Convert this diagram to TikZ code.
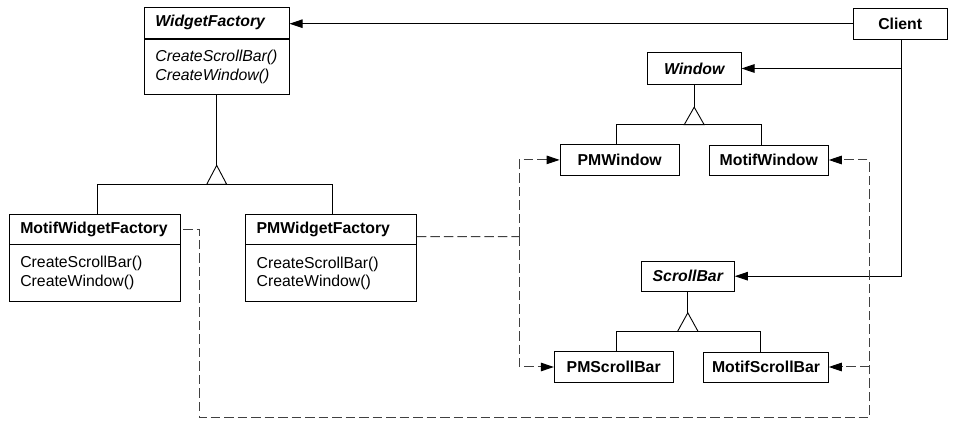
\documentclass[tikz,border=0pt]{standalone}
\usepackage{fontspec}
\setmainfont{Liberation Sans}
\usetikzlibrary{arrows.meta}

\newcommand\umlfont{\fontsize{15.8}{18.5}\selectfont}

\begin{document}
\begin{tikzpicture}[x=1pt,y=-1pt,line width=0.9pt,
    head/.style={draw,inner ysep=0pt,font=\umlfont\bfseries},
    ops/.style={draw,inner ysep=0pt,inner xsep=11pt,align=left,anchor=north,font=\umlfont},
    arr/.style={-{Triangle[length=13pt,width=8.5pt,color=black]}},
    dep/.style={black!75,line width=1pt,dash pattern=on 9.5pt off 4pt}]
    \useasboundingbox (0,0) rectangle (953,427);

    % factories
    \node[head,font=\umlfont\bfseries\itshape,inner xsep=11pt,text width=122.7pt,align=left,minimum height=31pt] (wf) at (216.7,22.8) {WidgetFactory};
    \node[ops,font=\umlfont\itshape,text width=122.7pt,minimum height=55.4pt] (wfops) at (wf.south) {CreateScrollBar()\\CreateWindow()};

    \node[head,inner xsep=11pt,text width=149pt,align=left,minimum height=29.7pt] (mwf) at (94.8,229.15) {MotifWidgetFactory};
    \node[ops,text width=149pt,minimum height=56.3pt] (mwfops) at (mwf.south) {CreateScrollBar()\\CreateWindow()};

    \node[head,inner xsep=11pt,text width=148.6pt,align=left,minimum height=29.3pt] (pwf) at (331,229.35) {PMWidgetFactory};
    \node[ops,text width=148.6pt,minimum height=56.7pt] (pwfops) at (pwf.south) {CreateScrollBar()\\CreateWindow()};

    % products
    \node[head,minimum width=93.7pt,minimum height=31.3pt] (client) at (900.2,23.7) {Client};
    \node[head,font=\umlfont\bfseries\itshape,minimum width=93.7pt,minimum height=31.6pt] (win) at (694.2,68.5) {Window};
    \node[head,minimum width=119.3pt,minimum height=30.3pt] (pmw) at (619.7,159.9) {PMWindow};
    \node[head,minimum width=119pt,minimum height=30pt] (mw) at (768.8,160) {MotifWindow};
    \node[head,font=\umlfont\bfseries\itshape,minimum width=93pt,minimum height=29.7pt] (sb) at (687.8,276.2) {ScrollBar};
    \node[head,minimum width=118.7pt,minimum height=30.6pt] (pms) at (613.7,367) {PMScrollBar};
    \node[head,minimum width=124.6pt,minimum height=30pt] (ms) at (766,367) {MotifScrollBar};

    % inheritance
    \draw (wfops.south) -- ++(0,70.3) coordinate (wftip);
    \draw (wftip) -- ++(-10,19) -- ++(20,0) -- cycle;
    \path (wftip) ++(0,19) coordinate (wfbase);
    \draw ([xshift=2.9pt]mwf.north) |- (wfbase) -| ([xshift=1.3pt]pwf.north);

    \draw (win.south) -- ++(0,22.4) coordinate (wtip);
    \draw (wtip) -- ++(-10,17.6) -- ++(20,0) -- cycle;
    \path (wtip) ++(0,17.6) coordinate (wbase);
    \draw ([xshift=-3pt]pmw.north) |- (wbase) -| ([xshift=-7.5pt]mw.north);

    \draw (sb.south) -- ++(0,21.3) coordinate (sbtip);
    \draw (sbtip) -- ++(-10.3,18.7) -- ++(20.6,0) -- cycle;
    \path (sbtip) ++(0,18.7) coordinate (sbbase);
    \draw ([xshift=2.6pt]pms.north) |- (sbbase) -| ([xshift=-5.3pt]ms.north);

    % client
    \coordinate (cdrop) at ([xshift=1.5pt]client.south);
    \draw[arr] (client.west) -- (client.west -| wf.east);
    \draw[arr] (cdrop |- win.east) -- (win.east);
    \draw[arr] (cdrop) |- (sb.east);

    % creates
    \coordinate (mroute) at (199.3,417.7);
    \coordinate (mjoin) at ([xshift=40.4pt]ms.east);
    \draw[dep,arr] ([xshift=2.4pt]mwf.east) -| (mroute) -| (mjoin |- mw.east) -- (mw.east);
    \draw[dep,arr] (mjoin) -- (ms.east);

    \coordinate (pjoin) at (519.3,236.7);
    \draw[dep] ([yshift=-7.4pt]pwf.east) -- (pjoin);
    \draw[dep,arr] (pjoin) |- (pmw.west);
    \draw[dep,arr] (pjoin) |- (pms.west);

  \end{tikzpicture}
\end{document}
